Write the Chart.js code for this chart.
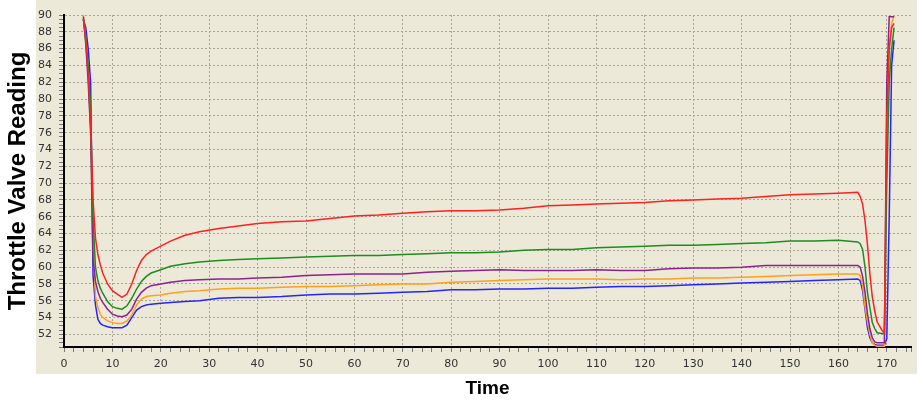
<!DOCTYPE html>
<html>
<head>
<meta charset="utf-8">
<script src="https://cdn.jsdelivr.net/npm/chart.js@4.4.0/dist/chart.umd.min.js"></script>
<style>
  html, body { margin: 0; padding: 0; background: #ffffff; }
  #wrap { width: 917px; height: 402px; }
</style>
</head>
<body>
<div id="wrap"><canvas id="c" width="917" height="402"></canvas></div>
<script>
const time = [4, 4.5, 5, 5.5, 6, 6.5, 7, 7.5, 8,
  9, 10, 11, 12, 13, 14, 15, 16, 17, 18,
  20, 22, 25, 28, 32, 36, 40,
  45, 50, 55, 60, 65, 70, 75, 80, 85, 90, 95, 100, 105, 110, 115, 120, 125, 130, 135, 140, 145, 150, 155, 160,
  164, 164.5, 165, 165.5, 166, 166.5, 167, 167.5, 168,
  169, 169.5, 170, 170.5, 171, 171.5];

const redSeries = [89.5, 87, 83, 77, 68, 63.5, 61.5, 60.3, 59.3,
  58, 57.2, 56.8, 56.4, 56.8, 58, 59.6, 60.8, 61.5, 61.9,
  62.5, 63.1, 63.8, 64.2, 64.6, 64.9, 65.2,
  65.4, 65.5, 65.8, 66.1, 66.2, 66.4, 66.6, 66.7, 66.7, 66.8, 67.0, 67.3, 67.4, 67.5, 67.6, 67.7, 67.9, 68.0, 68.1, 68.2, 68.4, 68.6, 68.7, 68.8,
  68.9, 68.4, 67.5, 65.5, 62.7, 59.2, 56.5, 54.8, 53.5,
  52.5, 52.2, 78, 86, 88.5, 89];

const greenSeries = [89.5, 87.5, 84, 79, 66, 60, 58.4, 57.5, 56.9,
  55.9, 55.3, 55.1, 55.0, 55.4, 56.3, 57.4, 58.3, 58.9, 59.3,
  59.7, 60.1, 60.4, 60.6, 60.8, 60.9, 61.0,
  61.1, 61.2, 61.3, 61.4, 61.4, 61.5, 61.6, 61.7, 61.7, 61.8, 62.0, 62.1, 62.1, 62.3, 62.4, 62.5, 62.6, 62.6, 62.7, 62.8, 62.9, 63.1, 63.1, 63.2,
  63.0, 62.8, 62.1, 60.0, 57.0, 55.2, 53.4, 52.7, 52.2,
  52.1, 52.1, 70, 82, 86, 88.5];

const purpleSeries = [89.8, 86.5, 82, 76, 61, 58.3, 57.1, 56.3, 55.8,
  55.0, 54.4, 54.2, 54.1, 54.3, 55.0, 56.2, 57.0, 57.5, 57.8,
  58.0, 58.2, 58.4, 58.5, 58.6, 58.6, 58.7,
  58.8, 59.0, 59.1, 59.2, 59.2, 59.2, 59.4, 59.5, 59.6, 59.7, 59.6, 59.6, 59.6, 59.7, 59.6, 59.6, 59.8, 59.9, 59.9, 60.0, 60.2, 60.2, 60.2, 60.2,
  60.2, 60.0, 58.9, 57.0, 54.5, 52.7, 51.6, 51.1, 51.0,
  51.0, 51.0, 82, 89.8, 89.8, 89.8];

const orangeSeries = [90, 87, 83, 77, 64, 56.5, 55.2, 54.4, 54.0,
  53.6, 53.4, 53.3, 53.3, 53.6, 54.3, 55.5, 56.2, 56.5, 56.6,
  56.7, 56.9, 57.1, 57.2, 57.4, 57.5, 57.5,
  57.6, 57.7, 57.7, 57.8, 57.9, 58.0, 58.0, 58.2, 58.3, 58.4, 58.5, 58.6, 58.6, 58.6, 58.5, 58.6, 58.6, 58.7, 58.7, 58.8, 58.9, 59.0, 59.1, 59.2,
  59.2, 59.0, 57.8, 55.3, 53.5, 52.0, 51.0, 50.7, 50.6,
  50.6, 50.6, 74, 86, 89, 89.9];

const blueSeries = [89.5, 88.5, 86, 82, 59, 55.5, 53.8, 53.3, 53.1,
  52.9, 52.8, 52.8, 52.8, 53.1, 54.0, 54.9, 55.3, 55.5, 55.6,
  55.7, 55.8, 55.9, 56.0, 56.3, 56.4, 56.4,
  56.5, 56.7, 56.8, 56.8, 56.9, 57.0, 57.1, 57.3, 57.3, 57.4, 57.4, 57.5, 57.5, 57.6, 57.7, 57.7, 57.8, 57.9, 58.0, 58.1, 58.2, 58.3, 58.4, 58.5,
  58.6, 58.4, 57.2, 55.0, 52.8, 51.6, 51.0, 50.8, 50.7,
  50.7, 50.7, 51.5, 66, 84, 87];

const xMin = 0, xMax = 175, xStep = 2, xLabelEvery = 10;
const yMin = 50.5, yMax = 90, yStep = 0.5, yLabelEvery = 2;
const xTitle = 'Time';
const yTitle = 'Throttle Valve Reading';

const seriesList = [
  { name: 'Series 1', values: redSeries, color: '#ff2020' },
  { name: 'Series 2', values: greenSeries, color: '#1e8c1e' },
  { name: 'Series 3', values: purpleSeries, color: '#8c228c' },
  { name: 'Series 4', values: orangeSeries, color: '#ff9f1c' },
  { name: 'Series 5', values: blueSeries, color: '#2424ff' }
];

const bgPlugin = {
  id: 'panelBg',
  beforeDraw(chart) {
    const ctx = chart.ctx;
    ctx.save();
    ctx.fillStyle = '#ffffff';
    ctx.fillRect(0, 0, chart.width, chart.height);
    ctx.fillStyle = '#ece9d8';
    ctx.fillRect(36, 0, chart.width - 36, 374);
    ctx.restore();
  }
};

const tickFont = { family: 'DejaVu Sans', size: 11 };
const gridCol = '#a9a596';

new Chart(document.getElementById('c'), {
  type: 'line',
  data: {
    datasets: seriesList.map(s => ({
      label: s.name,
      data: time.map((t, i) => ({ x: t, y: s.values[i] })),
      borderColor: s.color,
      backgroundColor: s.color,
      borderWidth: 1.5,
      pointRadius: 0,
      tension: 0,
      fill: false
    }))
  },
  options: {
    responsive: false,
    animation: false,
    events: [],
    layout: { padding: { top: 15, left: 0, right: 0, bottom: 0 } },
    plugins: { legend: { display: false }, tooltip: { enabled: false } },
    scales: {
      x: {
        type: 'linear',
        min: xMin, max: xMax,
        bounds: 'data',
        afterFit: s => { s.height = 55; },
        ticks: {
          stepSize: xStep,
          includeBounds: false,
          autoSkip: false,
          maxRotation: 0,
          padding: 6,
          color: '#333333',
          font: tickFont,
          callback: v => (v % xLabelEvery === 0 ? String(v) : '')
        },
        grid: {
          color: c => (c.tick && c.tick.value % xLabelEvery === 0 ? gridCol : 'rgba(0,0,0,0)'),
          lineWidth: 1,
          drawTicks: true,
          tickLength: 5,
          tickColor: '#7a7a7a',
          tickBorderDash: []
        },
        border: { display: true, color: '#000000', width: 2, dash: [2, 2] },
        title: {
          display: true,
          text: xTitle,
          color: '#000000',
          font: { family: 'Liberation Sans', size: 19, weight: 'bold' },
          padding: { top: 0, bottom: 2 }
        }
      },
      y: {
        type: 'linear',
        min: yMin, max: yMax,
        bounds: 'data',
        afterFit: s => { s.width = 64; },
        ticks: {
          stepSize: yStep,
          includeBounds: false,
          autoSkip: false,
          padding: 7,
          color: '#333333',
          font: tickFont,
          callback: v => (Math.abs(v % yLabelEvery) < 1e-9 ? String(v) : '')
        },
        grid: {
          color: c => (c.tick && Math.abs(c.tick.value % yLabelEvery) < 1e-9 ? gridCol : 'rgba(0,0,0,0)'),
          lineWidth: 1,
          drawTicks: true,
          tickLength: 5,
          tickColor: '#7a7a7a',
          tickBorderDash: []
        },
        border: { display: true, color: '#000000', width: 2, dash: [2, 2] },
        title: {
          display: true,
          text: yTitle,
          color: '#000000',
          font: { family: 'Liberation Sans', size: 24, weight: 'bold' },
          padding: { top: 4, bottom: 0 }
        }
      }
    }
  },
  plugins: [bgPlugin]
});
</script>
</body>
</html>
